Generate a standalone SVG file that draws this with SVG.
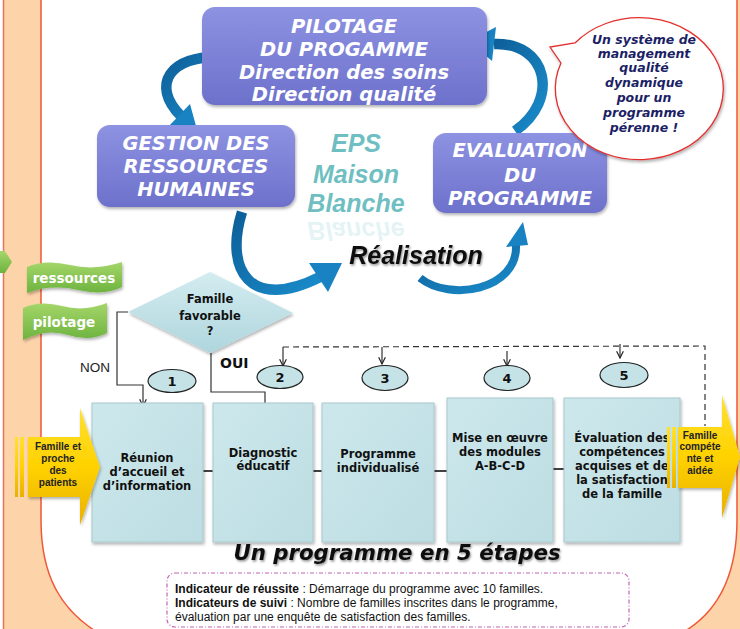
<svg xmlns="http://www.w3.org/2000/svg" width="740" height="629" viewBox="0 0 740 629">
<defs>
<linearGradient id="gPurple" x1="0" y1="0" x2="0" y2="1"><stop offset="0" stop-color="#8E92E2"/><stop offset="1" stop-color="#6D71CB"/></linearGradient>
<linearGradient id="gTeal" x1="0" y1="0" x2="1" y2="1"><stop offset="0" stop-color="#CDE8EC"/><stop offset="1" stop-color="#BCDDE2"/></linearGradient>
<linearGradient id="gDiam" x1="0" y1="0" x2="0" y2="1"><stop offset="0" stop-color="#D3ECF0"/><stop offset="1" stop-color="#AFD6DD"/></linearGradient>
<linearGradient id="gYellow" x1="0" y1="0" x2="0" y2="1"><stop offset="0" stop-color="#FFE033"/><stop offset="0.5" stop-color="#FFD200"/><stop offset="1" stop-color="#E9B000"/></linearGradient>
<linearGradient id="gGreen" x1="0" y1="0" x2="0" y2="1"><stop offset="0" stop-color="#A5D66A"/><stop offset="1" stop-color="#6DB33F"/></linearGradient>
<linearGradient id="gBlue" x1="0" y1="0" x2="1" y2="1"><stop offset="0" stop-color="#0D5F98"/><stop offset="1" stop-color="#1A8CCB"/></linearGradient>
<filter id="sh" x="-10%" y="-10%" width="130%" height="140%"><feDropShadow dx="1" dy="2" stdDeviation="1.5" flood-color="#000" flood-opacity="0.3"/></filter>
<filter id="tsh" x="-5%" y="-20%" width="110%" height="150%"><feDropShadow dx="1" dy="1.5" stdDeviation="1" flood-color="#000" flood-opacity="0.45"/></filter>
<marker id="ah" viewBox="0 0 10 10" refX="9" refY="5" markerWidth="7" markerHeight="7" orient="auto"><path d="M1,1 L9,5 L1,9" fill="none" stroke="#222" stroke-width="1.4"/></marker>
<style>
.pt{font-family:"DejaVu Sans",Verdana,sans-serif;font-weight:bold;font-style:italic;font-size:19.5px;fill:#fff;text-anchor:middle}
.bt{font-family:"DejaVu Sans",Verdana,sans-serif;font-weight:bold;font-size:11.5px;fill:#111;text-anchor:middle}
.yt{font-family:"Liberation Sans",Arial,sans-serif;font-weight:bold;font-size:10px;fill:#222;text-anchor:middle}
.nt{font-family:"DejaVu Sans",Verdana,sans-serif;font-weight:bold;font-size:13px;fill:#111;text-anchor:middle}
.box{fill:url(#gTeal);stroke:#A8C8CD;stroke-width:1}
.ell{fill:#C5E3E7;stroke:#222;stroke-width:1.2}
.ln{fill:none;stroke:#333;stroke-width:1.2}
.arw{fill:none;stroke:url(#gBlue);stroke-width:10.5}
.ahd{fill:#1882C2}
</style>
</defs>

<!-- background -->
<rect x="0" y="0" width="740" height="629" fill="#FDD4A9"/>
<rect x="0" y="0" width="3" height="629" fill="#fff"/>
<line x1="3.5" y1="0" x2="3.5" y2="629" stroke="#E8745A" stroke-width="1.5"/>
<path d="M41,-5 H737 V520 C737,580 715,615 680,634 H100 C60,610 41,575 41,520 Z" fill="#fff" stroke="#F0583A" stroke-width="1.5"/>

<!-- green arrow at left edge -->
<polygon points="0,251 5,251 12,262 5,273 0,273" fill="url(#gGreen)"/>

<!-- green banners -->
<g id="ressources">
<path d="M27,267 Q45,259 70,265 T122,262 V287 Q105,296 78,290 T27,293 Z" fill="url(#gGreen)" filter="url(#sh)"/>
<text x="74" y="283" font-family="DejaVu Sans,sans-serif" font-weight="bold" font-size="13.5" fill="#fff" text-anchor="middle">ressources</text>
</g>
<g id="pilotage">
<path d="M23,308 Q40,300 62,306 T107,303 V333 Q90,342 68,335 T23,340 Z" fill="url(#gGreen)" filter="url(#sh)"/>
<text x="64" y="327" font-family="DejaVu Sans,sans-serif" font-weight="bold" font-size="13.5" fill="#fff" text-anchor="middle">pilotage</text>
</g>

<!-- curved blue arrows -->
<g id="cycle-arrows">
<path class="arw" d="M221,57 C170,55 150,85 181,116"/>
<polygon class="ahd" points="168,127 190,104 199,137"/>
<path class="arw" d="M515,131 C560,100 548,42 494,44"/>
<polygon class="ahd" points="496,27 469,41 492,61"/>
<path class="arw" d="M242,212 C224,270 250,312 320,277"/>
<polygon class="ahd" points="309,263 342,263 328,292"/>
<path d="M420,278 C450,302 518,290 516,245" fill="none" stroke="url(#gBlue)" stroke-width="8"/>
<polygon class="ahd" points="506,247 523,222 528,245"/>
</g>

<!-- purple boxes -->
<g id="pilotage-programme">
<rect x="202" y="7" width="285" height="98" rx="13" fill="url(#gPurple)" filter="url(#sh)"/>
<text class="pt" x="344" y="33">PILOTAGE</text>
<text class="pt" x="344" y="56">DU PROGAMME</text>
<text class="pt" x="344" y="79">Direction des soins</text>
<text class="pt" x="344" y="101">Direction qualité</text>
</g>
<g id="gestion-rh">
<rect x="97" y="125" width="198" height="82" rx="13" fill="url(#gPurple)" filter="url(#sh)"/>
<text class="pt" x="196" y="150">GESTION DES</text>
<text class="pt" x="196" y="173">RESSOURCES</text>
<text class="pt" x="196" y="196">HUMAINES</text>
</g>
<g id="evaluation-programme">
<rect x="433" y="133" width="174" height="80" rx="13" fill="url(#gPurple)" filter="url(#sh)"/>
<text class="pt" x="520" y="157">EVALUATION</text>
<text class="pt" x="520" y="182">DU</text>
<text class="pt" x="520" y="205">PROGRAMME</text>
</g>

<!-- EPS Maison Blanche -->
<g id="eps" font-family="Liberation Sans,Arial,sans-serif" font-weight="bold" font-style="italic" font-size="25" text-anchor="middle" fill="#6FBFC2">
<text x="356" y="152">EPS</text>
<text x="356" y="183">Maison</text>
<text x="356" y="212">Blanche</text>
<text x="356" y="212" transform="translate(0,434) scale(1,-1)" opacity="0.18">Blanche</text>
</g>
<text id="realisation" x="416" y="264" font-family="Liberation Sans,Arial,sans-serif" font-weight="bold" font-style="italic" font-size="25" text-anchor="middle" fill="#111" filter="url(#tsh)">Réalisation</text>

<!-- speech bubble -->
<g id="bubble">
<path d="M561,63 L550,47 L575,43 A84,71 0 1 1 561,63 Z" fill="#fff" stroke="#E42F2F" stroke-width="1.3" filter="url(#sh)"/>
<g font-family="DejaVu Sans,Verdana,sans-serif" font-weight="bold" font-style="italic" font-size="12.5" fill="#1C1F66" text-anchor="middle">
<text x="644" y="44">Un système de</text>
<text x="644" y="58">management</text>
<text x="644" y="72">qualité</text>
<text x="644" y="87">dynamique</text>
<text x="644" y="102">pour un</text>
<text x="644" y="117">programme</text>
<text x="644" y="132">pérenne !</text>
</g>
</g>

<!-- connectors -->
<g id="connectors">
<polyline class="ln" points="128,312 117,312 117,385 143,385 143,406" marker-end="url(#ah)"/>
<polyline class="ln" points="211,353 211,392 265,392 265,410" marker-end="url(#ah)"/>
<polyline class="ln" points="283,347 705,346 705,426" stroke-dasharray="6,4"/>
<line class="ln" x1="283" y1="347" x2="283" y2="366" marker-end="url(#ah)"/>
<line class="ln" x1="382" y1="347" x2="382" y2="364" marker-end="url(#ah)"/>
<line class="ln" x1="507" y1="351" x2="507" y2="366" marker-end="url(#ah)"/>
<line class="ln" x1="620" y1="344" x2="620" y2="358" marker-end="url(#ah)"/>
<g stroke="#111" stroke-width="1.6">
<line x1="203" y1="471" x2="213" y2="471"/>
<line x1="313" y1="471" x2="322" y2="471"/>
<line x1="434" y1="471" x2="447" y2="471"/>
<line x1="553" y1="469" x2="564" y2="469"/>
</g>
</g>
<text x="80" y="372" font-family="Liberation Sans,Arial,sans-serif" font-size="13.5" fill="#222">NON</text>
<text x="220" y="368" font-family="DejaVu Sans,Verdana,sans-serif" font-weight="bold" font-size="14" fill="#111">OUI</text>

<!-- decision -->
<g id="decision">
<polygon points="128,312 210,272 293,313 210,353" fill="url(#gDiam)" filter="url(#sh)"/>
<text class="bt" x="210" y="303" font-size="12">Famille</text>
<text class="bt" x="210" y="320" font-size="12">favorable</text>
<text class="bt" x="210" y="335" font-size="12">?</text>
</g>

<!-- step numbers -->
<g id="n1"><ellipse class="ell" cx="172" cy="381" rx="24" ry="11.5"/><text class="nt" x="172" y="386">1</text></g>
<g id="n2"><ellipse class="ell" cx="280" cy="377" rx="23" ry="11.5"/><text class="nt" x="280" y="382">2</text></g>
<g id="n3"><ellipse class="ell" cx="385" cy="378" rx="23" ry="12.5"/><text class="nt" x="385" y="383">3</text></g>
<g id="n4"><ellipse class="ell" cx="507" cy="378" rx="23" ry="12.5"/><text class="nt" x="507" y="383">4</text></g>
<g id="n5"><ellipse class="ell" cx="624" cy="375" rx="24" ry="12.5"/><text class="nt" x="624" y="380">5</text></g>

<!-- step boxes -->
<g id="step1"><rect class="box" x="92" y="403" width="111" height="139" filter="url(#sh)"/>
<text class="bt" x="147" y="462">Réunion</text><text class="bt" x="147" y="476">d’accueil et</text><text class="bt" x="147" y="490">d’information</text></g>
<g id="step2"><rect class="box" x="213" y="403" width="100" height="139" filter="url(#sh)"/>
<text class="bt" x="263" y="457">Diagnostic</text><text class="bt" x="263" y="470">éducatif</text></g>
<g id="step3"><rect class="box" x="322" y="403" width="112" height="139" filter="url(#sh)"/>
<text class="bt" x="378" y="458">Programme</text><text class="bt" x="378" y="472">individualisé</text></g>
<g id="step4"><rect class="box" x="447" y="398" width="106" height="144" filter="url(#sh)"/>
<text class="bt" x="500" y="442">Mise en œuvre</text><text class="bt" x="500" y="456">des modules</text><text class="bt" x="500" y="470">A-B-C-D</text></g>
<g id="step5"><rect class="box" x="564" y="398" width="116" height="144" filter="url(#sh)"/>
<text class="bt" x="622" y="442">Évaluation des</text><text class="bt" x="622" y="456">compétences</text><text class="bt" x="622" y="470">acquises et de</text><text class="bt" x="622" y="484">la satisfaction</text><text class="bt" x="622" y="498">de la famille</text></g>

<!-- yellow arrows -->
<g id="famille-entree">
<rect x="15" y="437" width="3" height="60" fill="url(#gYellow)"/>
<rect x="20" y="437" width="4" height="60" fill="url(#gYellow)"/>
<polygon points="28,437 80,437 80,408 100,467 80,525 80,497 28,497" fill="url(#gYellow)" filter="url(#sh)"/>
<text class="yt" x="58" y="450">Famille et</text><text class="yt" x="58" y="462">proche</text><text class="yt" x="58" y="474">des</text><text class="yt" x="58" y="486">patients</text>
</g>
<g id="famille-sortie">
<rect x="667" y="427" width="3" height="61" fill="url(#gYellow)"/>
<rect x="672" y="427" width="4" height="61" fill="url(#gYellow)"/>
<polygon points="678,427 722,427 722,395 740,457 722,518 722,488 678,488" fill="url(#gYellow)" filter="url(#sh)"/>
<text class="yt" x="700" y="439">Famille</text><text class="yt" x="700" y="450">compéte</text><text class="yt" x="700" y="462">nte et</text><text class="yt" x="700" y="474">aidée</text>
</g>

<!-- title -->
<text id="title" x="397" y="560" font-family="DejaVu Sans,Verdana,sans-serif" font-weight="bold" font-style="italic" font-size="21.3" fill="#111" text-anchor="middle" filter="url(#tsh)">Un programme en 5 étapes</text>

<!-- indicators -->
<g id="indicateurs">
<rect x="167" y="573" width="462" height="54" rx="8" fill="#fff" stroke="#C266B4" stroke-width="1.2" stroke-dasharray="4,2,1,2"/>
<g font-family="Liberation Sans,Arial,sans-serif" font-size="12" fill="#111">
<text x="175" y="593"><tspan font-weight="bold">Indicateur de réussite</tspan> : Démarrage du programme avec 10 familles.</text>
<text x="175" y="607"><tspan font-weight="bold">Indicateurs de suivi</tspan> : Nombre de familles inscrites dans le programme,</text>
<text x="175" y="621">évaluation par une enquête de satisfaction des familles.</text>
</g>
</g>
</svg>
